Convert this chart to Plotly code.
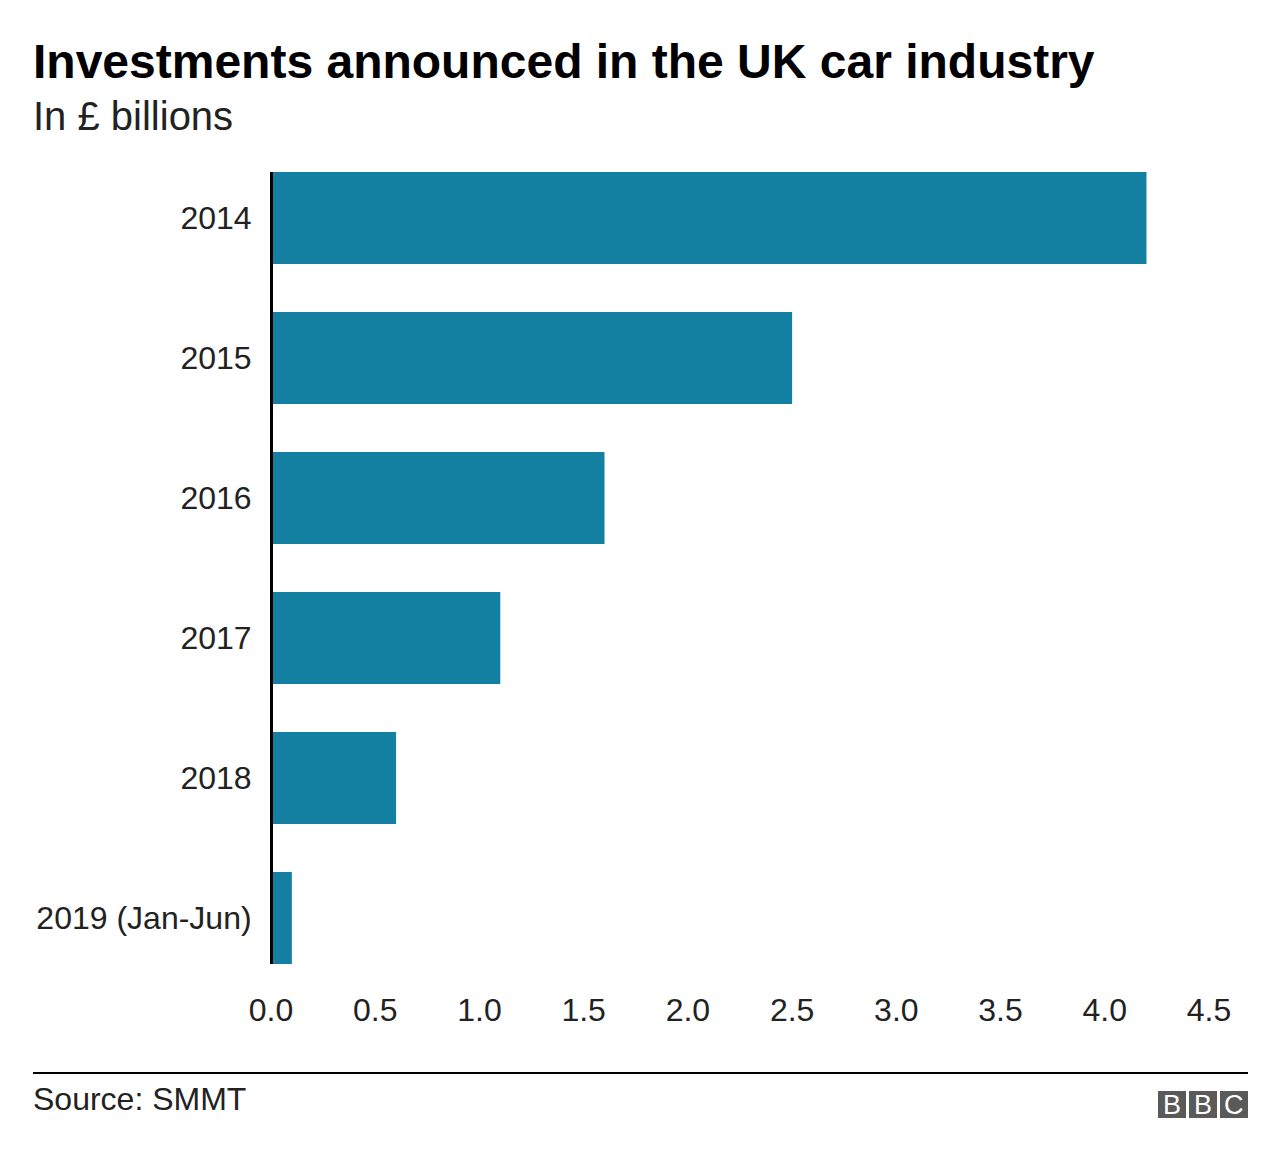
import plotly.graph_objects as go

categories = ["2014", "2015", "2016", "2017", "2018", "2019 (Jan-Jun)"]
values = [4.2, 2.5, 1.6, 1.1, 0.6, 0.1]
x_ticks = [0, 0.5, 1.0, 1.5, 2.0, 2.5, 3.0, 3.5, 4.0, 4.5]
x_tick_labels = ["0.0", "0.5", "1.0", "1.5", "2.0", "2.5", "3.0", "3.5", "4.0", "4.5"]

W, H = 1280, 1160
OFF = 8  # page body margin offset
L, R, T, B = 271 - OFF, 1209 - OFF, 148 - OFF, 988 - OFF  # plot area in figure pixels


def px(x):
    x -= OFF
    return (x - L) / (R - L)


def py(y):
    y -= OFF
    return (B - y) / (B - T)


FONT = "Liberation Sans, Arial, Helvetica, sans-serif"
BAR = "#1380A1"

fig = go.Figure(
    go.Bar(
        x=values,
        y=categories,
        orientation="h",
        marker=dict(color=BAR, line=dict(width=0)),
        hoverinfo="skip",
    )
)

fig.update_layout(
    width=W,
    height=H,
    margin=dict(l=L, r=W - R, t=T, b=H - B, pad=0),
    paper_bgcolor="white",
    plot_bgcolor="white",
    bargap=0.343,
    showlegend=False,
    font=dict(family=FONT, color="#222222"),
    xaxis=dict(
        range=[0, 4.5],
        tickvals=x_ticks,
        ticktext=x_tick_labels,
        showgrid=False,
        zeroline=False,
        showline=False,
        ticks="",
        ticklabelstandoff=0,
        tickfont=dict(size=32, color="#222222", family=FONT),
        fixedrange=True,
    ),
    yaxis=dict(
        categoryorder="array",
        categoryarray=categories[::-1],
        showgrid=False,
        zeroline=False,
        showline=False,
        ticks="outside",
        ticklen=12,
        tickcolor="rgba(0,0,0,0)",
        tickfont=dict(size=32, color="#222222", family=FONT),
        fixedrange=True,
    ),
)

shapes = [
    # y axis line (spans bars)
    dict(type="line", xref="paper", yref="paper", x0=px(271.5), x1=px(271.5), y0=py(964), y1=py(172),
         line=dict(color="black", width=3), layer="above"),
    # footer rule
    dict(type="line", xref="paper", yref="paper", x0=px(33), x1=px(1248), y0=py(1073), y1=py(1073),
         line=dict(color="black", width=2)),
]
bbc_boxes = [(1158, 1186), (1189, 1217), (1220, 1248)]
for x0, x1 in bbc_boxes:
    shapes.append(dict(type="rect", xref="paper", yref="paper", x0=px(x0), x1=px(x1),
                       y0=py(1118), y1=py(1091), fillcolor="#5a5a5a", line=dict(width=0)))
fig.update_layout(shapes=shapes)

annotations = [
    dict(text="<b>Investments announced in the UK car industry</b>", x=px(31), y=py(62),
         xanchor="left", yanchor="middle", font=dict(size=48, color="#000000", family=FONT)),
    dict(text="In £ billions", x=px(31), y=py(116),
         xanchor="left", yanchor="middle", font=dict(size=40, color="#222222", family=FONT)),
    dict(text="Source: SMMT", x=px(31), y=py(1099),
         xanchor="left", yanchor="middle", font=dict(size=32, color="#222222", family=FONT)),
]
for (x0, x1), letter in zip(bbc_boxes, ["B", "B", "C"]):
    annotations.append(dict(text=letter, x=px((x0 + x1) / 2), y=py(1105),
                            xanchor="center", yanchor="middle",
                            font=dict(size=27, color="white", family=FONT)))
for a in annotations:
    a.update(xref="paper", yref="paper", showarrow=False)
fig.update_layout(annotations=annotations)

fig.write_html("out.html")
